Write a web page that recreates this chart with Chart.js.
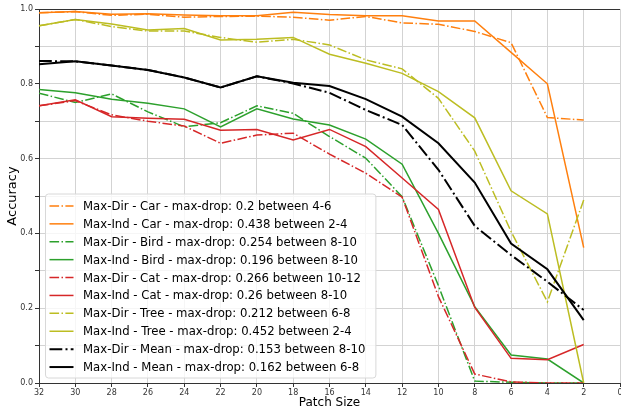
<!DOCTYPE html>
<html>
<head>
<meta charset="utf-8">
<title>Patch size accuracy</title>
<script src="https://cdn.jsdelivr.net/npm/chart.js"></script>
<style>
html, body { margin: 0; padding: 0; background: #fff; }
#wrap { width: 621px; height: 410px; position: relative; }
</style>
</head>
<body>
<div id="wrap"><canvas id="accChart"></canvas></div>
<script>
// data
const patchSizes = [32, 30, 28, 26, 24, 22, 20, 18, 16, 14, 12, 10, 8, 6, 4, 2];
const xTicks = [32, 30, 28, 26, 24, 22, 20, 18, 16, 14, 12, 10, 8, 6, 4, 2, 0];
const yTicks = [0.0, 0.2, 0.4, 0.6, 0.8, 1.0];

const carDir  = [0.990, 0.993, 0.983, 0.986, 0.978, 0.980, 0.981, 0.978, 0.970, 0.980, 0.963, 0.959, 0.940, 0.910, 0.710, 0.703];
const carInd  = [0.990, 0.993, 0.986, 0.987, 0.984, 0.982, 0.982, 0.991, 0.985, 0.982, 0.982, 0.968, 0.968, 0.884, 0.800, 0.362];
const birdDir = [0.775, 0.750, 0.773, 0.725, 0.685, 0.696, 0.741, 0.721, 0.659, 0.601, 0.498, 0.260, 0.005, 0.002, 0.000, 0.000];
const birdInd = [0.785, 0.776, 0.759, 0.748, 0.733, 0.685, 0.733, 0.706, 0.690, 0.652, 0.585, 0.400, 0.204, 0.075, 0.064, 0.000];
const catDir  = [0.741, 0.755, 0.717, 0.700, 0.687, 0.641, 0.663, 0.668, 0.612, 0.561, 0.497, 0.231, 0.024, 0.003, 0.000, 0.000];
const catInd  = [0.741, 0.757, 0.712, 0.708, 0.705, 0.676, 0.678, 0.650, 0.678, 0.632, 0.548, 0.464, 0.202, 0.066, 0.062, 0.103];
const treeDir = [0.955, 0.972, 0.953, 0.941, 0.941, 0.924, 0.911, 0.919, 0.904, 0.864, 0.840, 0.761, 0.620, 0.405, 0.217, 0.489];
const treeInd = [0.955, 0.972, 0.960, 0.944, 0.948, 0.917, 0.919, 0.924, 0.879, 0.855, 0.828, 0.779, 0.709, 0.514, 0.452, 0.000];
const meanDir = [0.861, 0.860, 0.849, 0.837, 0.817, 0.790, 0.820, 0.801, 0.776, 0.730, 0.690, 0.570, 0.420, 0.342, 0.271, 0.195];
const meanInd = [0.852, 0.860, 0.849, 0.837, 0.817, 0.790, 0.820, 0.803, 0.794, 0.759, 0.712, 0.641, 0.536, 0.373, 0.304, 0.168];

const ORANGE = '#ff7f0e', GREEN = '#2ca02c', RED = '#d62728', OLIVE = '#bcbd22', BLACK = '#000000';
const DASHDOT = [9.6, 2.4, 1.5, 2.4];
const DASHDOT_THICK = [12.8, 3.2, 2, 3.2];

function pts(vals) {
  return vals.map((v, i) => ({ x: patchSizes[i], y: v }));
}

function series(label, vals, color, dashed, width) {
  return {
    label,
    data: pts(vals),
    borderColor: color,
    backgroundColor: color,
    borderWidth: width || 1.5,
    borderDash: dashed ? (width > 1.5 ? DASHDOT_THICK : DASHDOT) : [],
    pointRadius: 0,
    tension: 0,
    fill: false
  };
}

const datasets = [
  series('Max-Dir - Car - max-drop: 0.2 between 4-6', carDir, ORANGE, true),
  series('Max-Ind - Car - max-drop: 0.438 between 2-4', carInd, ORANGE, false),
  series('Max-Dir - Bird - max-drop: 0.254 between 8-10', birdDir, GREEN, true),
  series('Max-Ind - Bird - max-drop: 0.196 between 8-10', birdInd, GREEN, false),
  series('Max-Dir - Cat - max-drop: 0.266 between 10-12', catDir, RED, true),
  series('Max-Ind - Cat - max-drop: 0.26 between 8-10', catInd, RED, false),
  series('Max-Dir - Tree - max-drop: 0.212 between 6-8', treeDir, OLIVE, true),
  series('Max-Ind - Tree - max-drop: 0.452 between 2-4', treeInd, OLIVE, false),
  series('Max-Dir - Mean - max-drop: 0.153 between 8-10', meanDir, BLACK, true, 2),
  series('Max-Ind - Mean - max-drop: 0.162 between 6-8', meanInd, BLACK, false, 2)
];
// matplotlib draws later lines on top
datasets.forEach((d, i) => d.order = datasets.length - i);

// legend box inside the plot, lower left, plus top spine
const boxLegend = {
  id: 'boxLegend',
  afterDraw(chart) {
    const ctx = chart.ctx;
    const area = chart.chartArea;
    ctx.save();
    // top spine
    ctx.strokeStyle = '#333';
    ctx.lineWidth = 1;
    ctx.beginPath();
    ctx.moveTo(area.left, area.top + 0.5);
    ctx.lineTo(area.right, area.top + 0.5);
    ctx.stroke();

    const sets = chart.data.datasets;
    ctx.font = '11.7px "DejaVu Sans"';
    let maxW = 0;
    sets.forEach(d => { maxW = Math.max(maxW, ctx.measureText(d.label).width); });
    const pitch = 17.9;
    const w = 4 + 26 + 9 + maxW + 9;
    const h = sets.length * pitch + 5;
    const x0 = area.left + 6.5;
    const y0 = area.bottom - 5 - h;

    ctx.fillStyle = 'rgba(255,255,255,0.8)';
    ctx.strokeStyle = '#d8d8d8';
    ctx.beginPath();
    ctx.roundRect(x0, y0, w, h, 3);
    ctx.fill();
    ctx.stroke();

    ctx.textBaseline = 'middle';
    sets.forEach((d, i) => {
      const cy = y0 + 3 + pitch * (i + 0.5);
      ctx.strokeStyle = d.borderColor;
      ctx.lineWidth = d.borderWidth;
      ctx.setLineDash(d.borderDash);
      ctx.beginPath();
      ctx.moveTo(x0 + 4, cy);
      ctx.lineTo(x0 + 28, cy);
      ctx.stroke();
      ctx.setLineDash([]);
      ctx.fillStyle = '#000';
      ctx.fillText(d.label, x0 + 37.5, cy + 1);
    });
    ctx.restore();
  }
};

new Chart(document.getElementById('accChart'), {
  type: 'line',
  data: { datasets },
  options: {
    responsive: true,
    maintainAspectRatio: false,
    animation: false,
    layout: { padding: { top: 9, right: 1, left: 0, bottom: 0 } },
    plugins: {
      legend: { display: false },
      tooltip: { enabled: false }
    },
    scales: {
      x: {
        type: 'linear',
        reverse: true,
        min: 0,
        max: 32,
        afterBuildTicks: s => { s.ticks = xTicks.map(v => ({ value: v })); },
        afterFit: s => { s.paddingLeft = 0; s.paddingRight = 0; s.height = 27; },
        ticks: {
          color: '#333',
          font: { family: 'DejaVu Sans', size: 8 },
          padding: 1,
          maxRotation: 0,
          autoSkip: false,
          callback: v => String(v)
        },
        grid: { color: '#d3d3d3', lineWidth: 1, tickLength: 4, tickColor: '#333' },
        border: { color: '#333', width: 1 },
        title: {
          display: true,
          text: 'Patch Size',
          color: '#000',
          font: { family: 'DejaVu Sans', size: 12 },
          padding: { top: 0, bottom: 0 }
        }
      },
      y: {
        min: 0,
        max: 1,
        afterBuildTicks: s => {
          const t = [];
          for (let i = 0; i <= 10; i++) t.push({ value: i / 10 });
          s.ticks = t;
        },
        afterFit: s => { s.width = 39; },
        ticks: {
          color: '#333',
          font: { family: 'DejaVu Sans', size: 8 },
          padding: 2,
          autoSkip: false,
          callback: v => {
            const hit = yTicks.find(t => Math.abs(t - v) < 1e-6);
            return hit === undefined ? '' : hit.toFixed(1);
          }
        },
        grid: { color: '#d3d3d3', lineWidth: 1, tickLength: 4, tickColor: '#333' },
        border: { color: '#333', width: 1 },
        title: {
          display: true,
          text: 'Accuracy',
          color: '#000',
          font: { family: 'DejaVu Sans', size: 13 },
          padding: { top: 5, bottom: 0 }
        }
      }
    }
  },
  plugins: [boxLegend]
});
</script>
</body>
</html>
